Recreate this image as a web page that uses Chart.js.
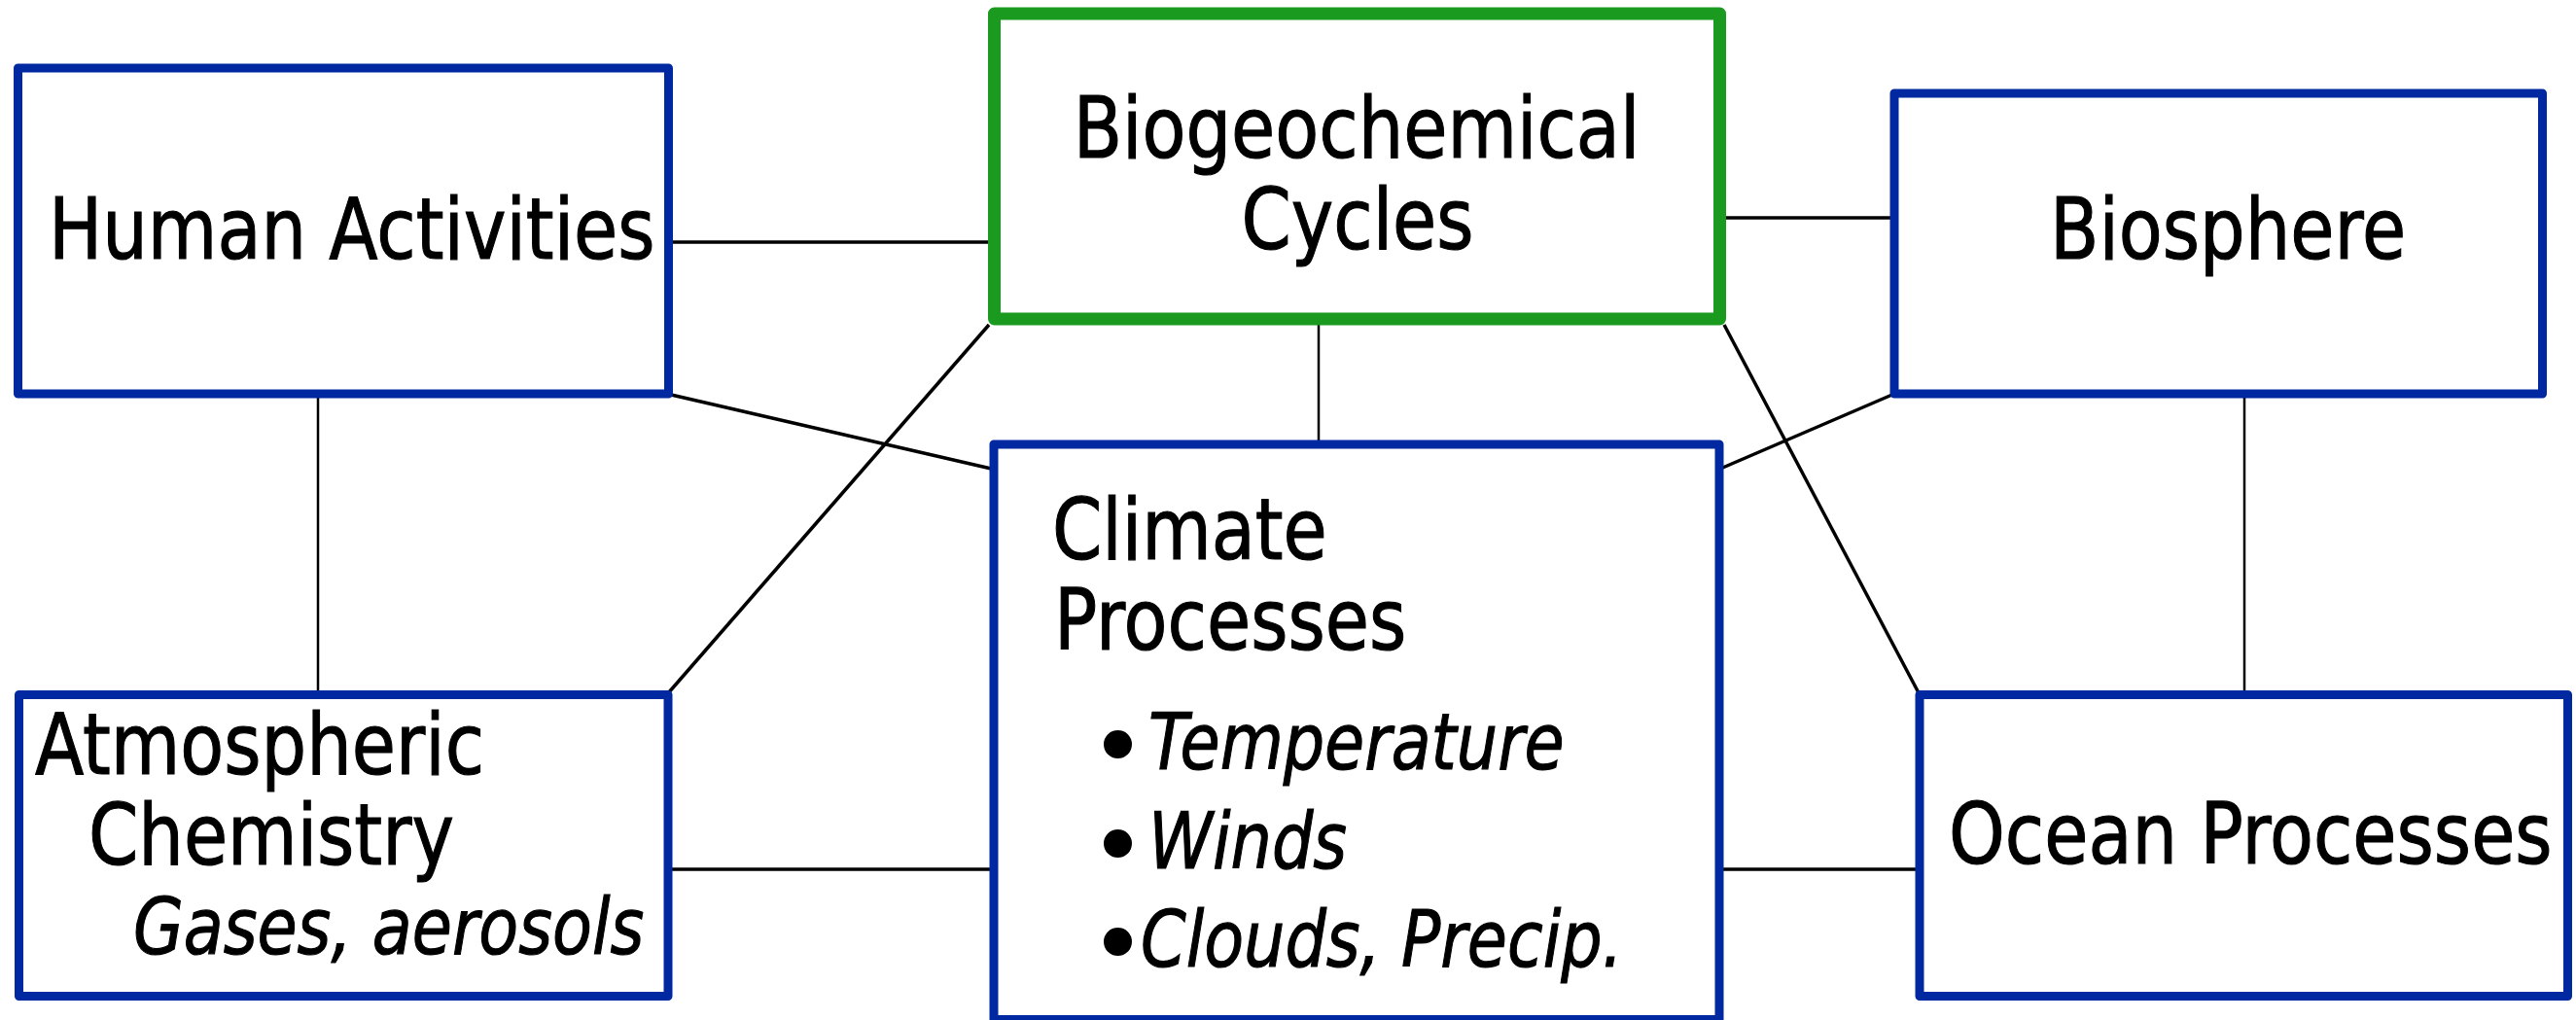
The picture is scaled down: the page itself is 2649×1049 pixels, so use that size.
<!DOCTYPE html>
<html>
<head>
<meta charset="utf-8">
<script src="https://cdn.jsdelivr.net/npm/chart.js@4"></script>
<style>
  html, body { margin: 0; padding: 0; background: #fff; }
  #diagram { display: block; }
</style>
</head>
<body>
<canvas id="diagram" width="2649" height="1049"></canvas>
<script>
// Diagram content
const boxNames = ['Human Activities', 'Biogeochemical Cycles', 'Biosphere', 'Climate Processes', 'Atmospheric Chemistry', 'Ocean Processes'];
const climateItems = ['Temperature', 'Winds', 'Clouds, Precip.'];
const atmosNote = 'Gases, aerosols';
// which boxes are linked (index into boxNames)
const linkFrom = [0, 1, 0, 1, 1, 1, 2, 0, 2, 4, 3];
const linkTo   = [1, 2, 3, 4, 3, 5, 3, 4, 5, 3, 5];

// Layout, in the diagram's own units (same as page px)
const boxRect = [
  [18.5, 70, 687.5, 405],     // Human Activities
  [1022.5, 14, 1768.5, 328],  // Biogeochemical Cycles
  [1948, 96, 2614.5, 405],    // Biosphere
  [1022, 457, 1768, 1048.5],  // Climate Processes
  [19.5, 714.5, 687, 1024.5], // Atmospheric Chemistry
  [1974, 714.5, 2640.5, 1024.5] // Ocean Processes
];
const linkEnds = [
  [691, 249, 1017, 249],
  [1775, 224, 1944, 224],
  [688, 405.5, 1021.5, 482.5],
  [1017, 334, 687, 713],
  [1356, 334, 1356, 457],
  [1773, 334, 1973.5, 713.5],
  [1948, 405, 1768, 482.5],
  [327, 405, 327, 714],
  [2308, 405, 2308, 714],
  [687, 894, 1022, 894],
  [1768, 894, 1974, 894]
];
// text lines: [text, x, baseline, align, italic]
const textLayout = [
  [boxNames[0], 50, 266, 'left', false],
  ['Biogeochemical', 1395, 162, 'center', false],
  ['Cycles', 1396, 256, 'center', false],
  [boxNames[2], 2108, 266, 'left', false],
  ['Climate', 1082, 575, 'left', false],
  ['Processes', 1084, 668, 'left', false],
  ['Atmospheric', 36, 796, 'left', false],
  ['Chemistry', 91, 889, 'left', false],
  [atmosNote, 137, 981, 'left', true],
  [boxNames[5], 2004, 888, 'left', false],
  [climateItems[0], 1181, 791, 'left', true],
  [climateItems[1], 1181, 893, 'left', true],
  [climateItems[2], 1173, 994, 'left', true]
];
// bullet centres
const bulletX = 1149;
const bulletY = [765, 867, 968];

const BLUE = '#0029a1';
const GREEN = '#1a9a1f';
const SQUEEZE = 0.835;

var datasets = [];
for (var i = 0; i < boxRect.length; i++) {
  var r = boxRect[i];
  datasets.push({
    label: boxNames[i],
    data: [
      {x: r[0], y: r[1]}, {x: r[2], y: r[1]}, {x: r[2], y: r[3]},
      {x: r[0], y: r[3]}, {x: r[0], y: r[1]}, {x: r[2], y: r[1]}
    ],
    showLine: true,
    borderColor: i === 1 ? GREEN : BLUE,
    borderWidth: i === 1 ? 13 : 9,
    borderJoinStyle: 'round',
    borderCapStyle: 'butt',
    pointRadius: 0,
    fill: false,
    order: 0
  });
}
for (var j = 0; j < linkEnds.length; j++) {
  var e = linkEnds[j];
  datasets.push({
    label: boxNames[linkFrom[j]] + ' - ' + boxNames[linkTo[j]],
    data: [{x: e[0], y: e[1]}, {x: e[2], y: e[3]}],
    showLine: true,
    borderColor: '#000',
    borderWidth: e[0] === e[2] ? 2.5 : 3.5,
    pointRadius: 0,
    fill: false,
    order: 1
  });
}

const textPlugin = {
  id: 'boxText',
  afterDatasetsDraw(chart) {
    const ctx = chart.ctx;
    const xs = chart.scales.x, ys = chart.scales.y;
    ctx.save();
    ctx.fillStyle = '#000';
    ctx.strokeStyle = '#000';
    ctx.lineWidth = 1.2;
    ctx.textBaseline = 'alphabetic';
    function put(txt, x, y, align, italic) {
      ctx.save();
      ctx.translate(xs.getPixelForValue(x), ys.getPixelForValue(y));
      ctx.scale(SQUEEZE, 1);
      ctx.font = (italic ? 'italic 80px' : '88px') + ' "DejaVu Sans"';
      ctx.textAlign = align;
      ctx.fillText(txt, 0, 0);
      ctx.strokeText(txt, 0, 0);
      ctx.restore();
    }
    textLayout.forEach(t => put(t[0], t[1], t[2], t[3], t[4]));
    // bullets, centred on their dot
    ctx.font = '100px "DejaVu Sans"';
    ctx.textAlign = 'left';
    const m = ctx.measureText('\u2022');
    const dx = (m.actualBoundingBoxLeft - m.actualBoundingBoxRight) / 2;
    const dy = (m.actualBoundingBoxAscent - m.actualBoundingBoxDescent) / 2;
    bulletY.forEach(y => {
      ctx.fillText('\u2022', xs.getPixelForValue(bulletX) + dx, ys.getPixelForValue(y) + dy);
    });
    ctx.restore();
  }
};

new Chart(document.getElementById('diagram'), {
  type: 'scatter',
  data: { datasets: datasets },
  options: {
    responsive: false,
    devicePixelRatio: 1,
    animation: false,
    layout: { padding: 0 },
    scales: {
      x: { type: 'linear', min: 0, max: 2649, display: false },
      y: { type: 'linear', min: 0, max: 1049, reverse: true, display: false }
    },
    plugins: {
      legend: { display: false },
      tooltip: { enabled: false }
    }
  },
  plugins: [textPlugin]
});
</script>
</body>
</html>
